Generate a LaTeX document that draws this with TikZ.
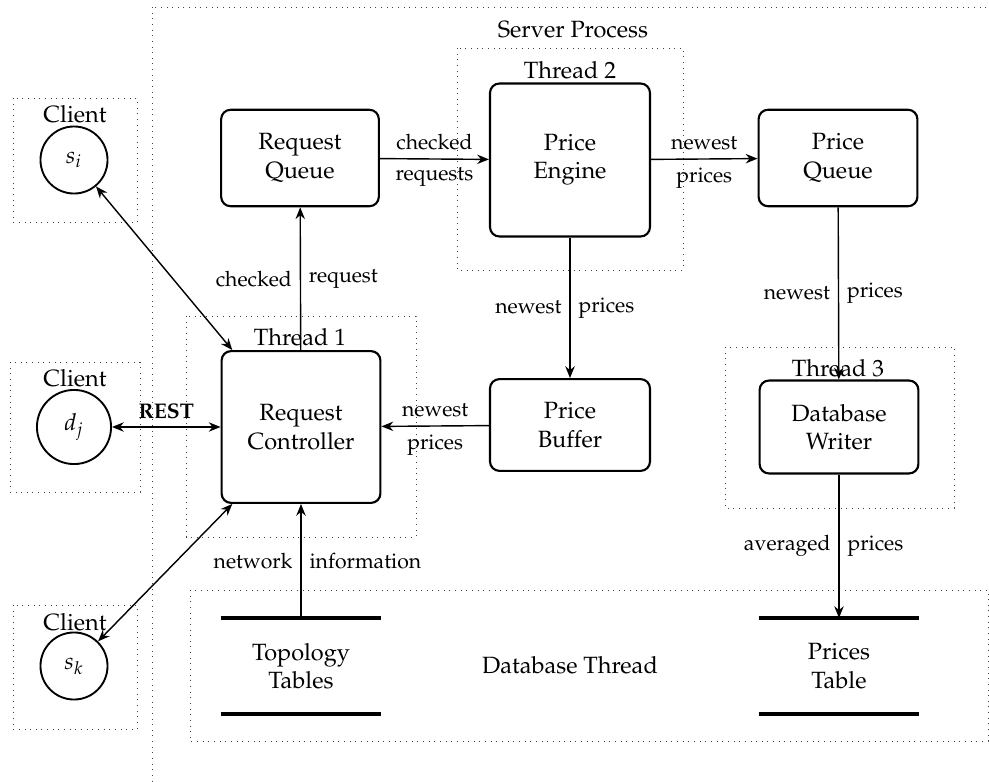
\documentclass[tikz,border=0pt]{standalone}
\usepackage[T1]{fontenc}
\usepackage{mathpazo}
\usetikzlibrary{arrows.meta}
\begin{document}
\begin{tikzpicture}[x=0.425pt,y=-0.425pt,
  box/.style={draw,line width=0.9pt,rounded corners=4pt,align=center,inner sep=0pt},
  grp/.style={draw,dotted,black!75,thin},
  conn/.style={semithick,-{Stealth[length=5pt,width=4pt]}},
  both/.style={semithick,{Stealth[length=5pt,width=4pt]}-{Stealth[length=5pt,width=4pt]}},
  client/.style={draw,line width=0.8pt,circle,inner sep=0pt,minimum size=28.5pt},
  lab/.style={font=\small},
  store/.style={align=center,minimum width=68pt,minimum height=40.4pt,inner sep=0pt},
  bar/.style={line width=1.3pt}]
\useasboundingbox (0,0) rectangle (989,782);

% process and thread groups
\draw[grp] (152,7) rectangle (1010,800);
\node (sp) at (573,30) {Server Process};
\draw[grp] (457,48) rectangle (683,270);
\node (t2) at (570,70) {Thread 2};
\draw[grp] (186,316) rectangle (416,537);
\node (t1) at (300,337) {Thread 1};
\draw[grp] (725,347) rectangle (954,508);
\node (t3) at (838,368) {Thread 3};
\draw[grp] (190,590) rectangle (988,741);
\node (dbt) at (570,665) {Database Thread};

% clients
\draw[grp] (13,98) rectangle (137,222);
\node (c1) at (75,114) {Client};
\node[client] (si) at (74,160) {$s_i$};
\draw[grp] (10,362) rectangle (140,492);
\node (c2) at (75,378) {Client};
\node[client,minimum size=31.5pt] (dj) at (74,427) {$d_j$};
\draw[grp] (13,605) rectangle (137,729);
\node (c3) at (75,622) {Client};
\node[client] (sk) at (74,666) {$s_k$};

% components
\node[box,minimum width=67pt,minimum height=41pt] (rq) at (300,158) {Request\\Queue};
\node[box,minimum width=68pt,minimum height=65pt] (pe) at (570,160) {Price\\Engine};
\node[box,minimum width=67.5pt,minimum height=41pt] (pq) at (838,158) {Price\\Queue};
\node[box,minimum width=67.5pt,minimum height=64.5pt] (rc) at (301,427) {Request\\Controller};
\node[box,minimum width=68pt,minimum height=39pt] (pb) at (570,425) {Price\\Buffer};
\node[box,minimum width=67.5pt,minimum height=39.5pt] (dw) at (839,427) {Database\\Writer};

% tables
\node[store] (topo) at (301,666) {Topology\\Tables};
\draw[bar] (topo.north west) -- (topo.north east);
\draw[bar] (topo.south west) -- (topo.south east);
\node[store] (pt) at (839,666) {Prices\\Table};
\draw[bar] (pt.north west) -- (pt.north east);
\draw[bar] (pt.south west) -- (pt.south east);

% data flow
\draw[conn] (rc) -- node[lab,left] {checked} node[lab,right] {request} (rq);
\draw[conn] (rq) -- node[lab,above] {checked} node[lab,below] {requests} (pe);
\draw[conn] (pe) -- node[lab,above] {newest} node[lab,below] {prices} (pq);
\draw[conn] (pe) -- node[lab,left] {newest} node[lab,right] {prices} (pb);
\draw[conn] (pb) -- node[lab,above] {newest} node[lab,below] {prices} (rc);
\draw[conn] (pq) -- node[lab,left] {newest} node[lab,right] {prices} (dw);
\draw[conn] (dw) -- node[lab,left] {averaged} node[lab,right] {prices} (pt);
\draw[conn] (topo) -- node[lab,left] {network} node[lab,right] {information} (rc);

% client connections
\draw[both] (si) -- ([xshift=5pt]rc.north west);
\draw[both] (dj) -- node[lab,above] {\textbf{REST}} (rc);
\draw[both] (sk) -- ([xshift=5pt]rc.south west);
\end{tikzpicture}
\end{document}
